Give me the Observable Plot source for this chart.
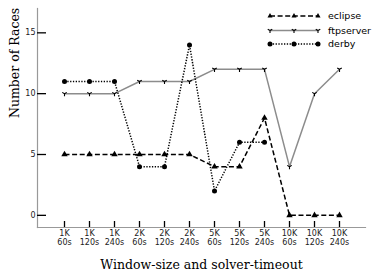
<!DOCTYPE html>
<html>
<head>
<meta charset="utf-8">
<script src="https://cdn.jsdelivr.net/npm/d3@7"></script>
<script src="https://cdn.jsdelivr.net/npm/@observablehq/plot@0.6"></script>
<style>
  html, body { margin: 0; padding: 0; background: #fff; }
  svg { display: block; }
</style>
</head>
<body>
<div id="chart"></div>
<script>
const categories = ["1K\n60s","1K\n120s","1K\n240s","2K\n60s","2K\n120s","2K\n240s","5K\n60s","5K\n120s","5K\n240s","10K\n60s","10K\n120s","10K\n240s"];
const eclipse   = [5, 5, 5, 5, 5, 5, 4, 4, 8, 0, 0, 0];
const ftpserver = [10, 10, 10, 11, 11, 11, 12, 12, 12, 4, 10, 12];
const derby     = [11, 11, 11, 4, 4, 14, 2, 6, 6];
const yTicks = [0, 5, 10, 15];
const seriesNames = ["eclipse", "ftpserver", "derby"];

const toRows = (vals) => vals.map((v, i) => ({x: categories[i], y: v}));

// matplotlib-like "tri_down" marker
const triDown = {
  draw(context, size) {
    const r = Math.sqrt(size / Math.PI);
    const s = Math.sin(Math.PI / 3) * r, c = r / 2;
    context.moveTo(0, 0); context.lineTo(0, r);
    context.moveTo(0, 0); context.lineTo(-s, -c);
    context.moveTo(0, 0); context.lineTo(s, -c);
  }
};

const styles = {
  eclipse:   {stroke: "#000", dash: "5,2.6", symbol: "triangle", r: 2.4, fill: "#000", mstroke: "none"},
  ftpserver: {stroke: "#8c8c8c", dash: null, symbol: triDown, r: 2.6, fill: "none", mstroke: "#000"},
  derby:     {stroke: "#000", dash: "1.3,1.5", symbol: "circle", r: 2.5, fill: "#000", mstroke: "none"}
};
const dataBy = {eclipse, ftpserver, derby};

const W = 374, H = 280;
const mL = 37, mR = 9, mT = 8, mB = 53;
const plotH = H - mT - mB, plotW = W - mL - mR;

const marks = [];
for (const name of ["ftpserver", "eclipse", "derby"]) {
  const st = styles[name];
  const rows = toRows(dataBy[name]);
  marks.push(Plot.line(rows, {x: "x", y: "y", stroke: st.stroke, strokeWidth: 1.5, strokeDasharray: st.dash, strokeLinecap: "butt", strokeLinejoin: "miter"}));
}
for (const name of ["ftpserver", "eclipse", "derby"]) {
  const st = styles[name];
  const rows = toRows(dataBy[name]);
  marks.push(Plot.dot(rows, {x: "x", y: "y", symbol: () => st.symbol, r: st.r, fill: st.fill, stroke: st.mstroke, strokeWidth: 1.1}));
}

const chart = Plot.plot({
  width: W,
  height: H,
  marginLeft: mL,
  marginRight: mR,
  marginTop: mT,
  marginBottom: mB,
  style: {fontFamily: "DejaVu Sans", background: "#fff", overflow: "visible"},
  symbol: {type: "identity"},
  x: {type: "point", domain: categories, padding: 1, axis: null},
  y: {domain: [-1, 17], axis: null},
  marks: [
    // spines
    Plot.frame({anchor: "left", stroke: "#999", strokeWidth: 1.2}),
    Plot.frame({anchor: "bottom", stroke: "#999", strokeWidth: 1.2}),
    // inward ticks
    Plot.tickX(categories, {x: d => d, stroke: "#000", strokeWidth: 1.3, insetTop: plotH - 6}),
    Plot.tickY(yTicks, {y: d => d, stroke: "#000", strokeWidth: 1.3, insetRight: plotW - 9}),
    // tick labels
    Plot.axisX({tickSize: 0, tickPadding: 3, fontSize: 8, lineHeight: 1.05, fill: "#222", label: null}),
    Plot.axisY(yTicks, {tickSize: 0, tickPadding: 2, fontSize: 8, fill: "#222", label: null}),
    ...marks,
    // axis titles
    Plot.text(["Number of Races"], {frameAnchor: "left", dx: -23, rotate: -90, fontSize: 12.5, fontFamily: "DejaVu Serif", fill: "#000"}),
    Plot.text(["Window-size and solver-timeout"], {frameAnchor: "bottom", dy: 37, fontSize: 12.5, fontFamily: "DejaVu Serif", fill: "#000", lineAnchor: "middle"})
  ]
});

// legend (upper right, inside axes)
const svg = d3.select(chart);
const g = svg.append("g").attr("font-family", "DejaVu Sans").attr("font-size", 9.5).attr("text-anchor", "start");
const legRows = [16, 30.5, 44];
seriesNames.forEach((name, i) => {
  const st = styles[name];
  const y = legRows[i];
  const x0 = 270, x1 = 318;
  g.append("line").attr("x1", x0).attr("x2", x1).attr("y1", y).attr("y2", y)
    .attr("stroke", st.stroke).attr("stroke-width", 1.5)
    .attr("stroke-dasharray", st.dash);
  const sym = typeof st.symbol === "string"
    ? (st.symbol === "triangle" ? d3.symbolTriangle2 : d3.symbolCircle)
    : st.symbol;
  const path = d3.symbol(sym, Math.PI * st.r * st.r)();
  [x0, (x0 + x1) / 2, x1].forEach(x => {
    g.append("path").attr("d", path).attr("transform", `translate(${x},${y})`)
      .attr("fill", st.fill).attr("stroke", st.mstroke).attr("stroke-width", 1.1);
  });
  g.append("text").attr("x", 328).attr("y", y).attr("dy", "0.35em").attr("fill", "#000").attr("text-anchor", "start").text(name);
});

document.getElementById("chart").appendChild(chart);
</script>
</body>
</html>
